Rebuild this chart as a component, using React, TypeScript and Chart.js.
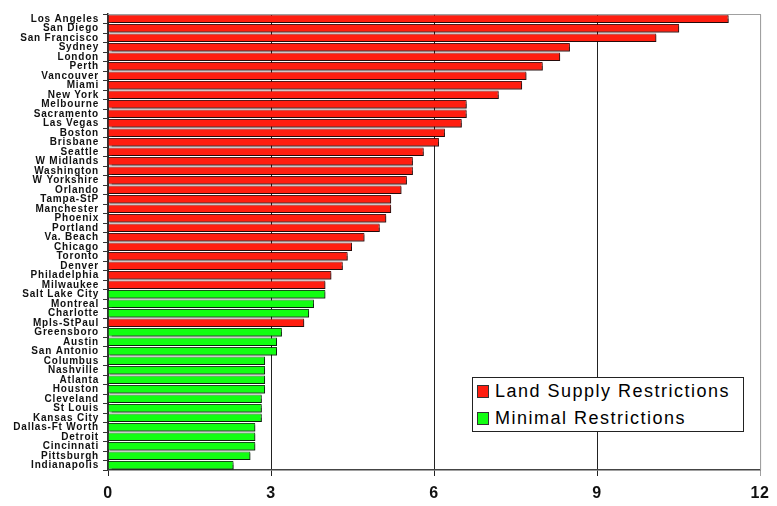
import React, { useEffect, useRef } from "react";
import { Chart, registerables } from "chart.js";

Chart.register(...registerables);

const cities = [
  "Los Angeles", "San Diego", "San Francisco", "Sydney", "London", "Perth",
  "Vancouver", "Miami", "New York", "Melbourne", "Sacramento", "Las Vegas",
  "Boston", "Brisbane", "Seattle", "W Midlands", "Washington", "W Yorkshire",
  "Orlando", "Tampa-StP", "Manchester", "Phoenix", "Portland", "Va. Beach",
  "Chicago", "Toronto", "Denver", "Philadelphia", "Milwaukee", "Salt Lake City",
  "Montreal", "Charlotte", "Mpls-StPaul", "Greensboro", "Austin", "San Antonio",
  "Columbus", "Nashville", "Atlanta", "Houston", "Cleveland", "St Louis",
  "Kansas City", "Dallas-Ft Worth", "Detroit", "Cincinnati", "Pittsburgh", "Indianapolis",
];

const values = [
  11.42, 10.51, 10.09, 8.5, 8.32, 8.0,
  7.7, 7.62, 7.19, 6.6, 6.6, 6.51,
  6.2, 6.09, 5.81, 5.61, 5.61, 5.5,
  5.4, 5.21, 5.21, 5.12, 5.0, 4.72,
  4.49, 4.41, 4.32, 4.11, 4.0, 4.0,
  3.79, 3.7, 3.61, 3.2, 3.11, 3.11,
  2.89, 2.89, 2.89, 2.89, 2.83, 2.83,
  2.83, 2.71, 2.71, 2.71, 2.62, 2.31,
];

// 1 = land supply restrictions, 0 = minimal restrictions
const restricted = [
  1, 1, 1, 1, 1, 1,
  1, 1, 1, 1, 1, 1,
  1, 1, 1, 1, 1, 1,
  1, 1, 1, 1, 1, 1,
  1, 1, 1, 1, 1, 0,
  0, 0, 1, 0, 0, 0,
  0, 0, 0, 0, 0, 0,
  0, 0, 0, 0, 0, 0,
];

const seriesLabels = ["Land Supply Restrictions", "Minimal Restrictions"];
const xTicks = [0, 3, 6, 9, 12];

const RED = "#ff1e10";
const GREEN = "#12ff12";

const spacingPlugin = {
  id: "labelSpacing",
  beforeDraw(chart: any) {
    chart.ctx.letterSpacing = "0.8px";
  },
  beforeDatasetsDraw(chart: any) {
    chart.ctx.letterSpacing = "0px";
  },
};

const shadowPlugin = {
  id: "barShadow",
  beforeDatasetsDraw(chart: any) {
    const ctx = chart.ctx;
    ctx.save();
    ctx.shadowColor = "rgba(0,0,0,0.6)";
    ctx.shadowOffsetX = 1;
    ctx.shadowOffsetY = 1.5;
    ctx.shadowBlur = 1;
  },
  afterDatasetsDraw(chart: any) {
    chart.ctx.restore();
  },
};

const framePlugin = {
  id: "frame",
  afterDraw(chart: any) {
    const { ctx, chartArea } = chart;
    ctx.save();
    ctx.strokeStyle = "#a0a0a0";
    ctx.lineWidth = 1;
    ctx.beginPath();
    ctx.moveTo(chartArea.left, chartArea.top + 0.5);
    ctx.lineTo(chartArea.right + 0.5, chartArea.top + 0.5);
    ctx.lineTo(chartArea.right + 0.5, chartArea.bottom);
    ctx.stroke();
    ctx.restore();
  },
};

export default function App() {
  const canvasRef = useRef<HTMLCanvasElement | null>(null);

  useEffect(() => {
    if (!canvasRef.current) return;
    const redData = values.map((v, i) => (restricted[i] ? v : null));
    const greenData = values.map((v, i) => (restricted[i] ? null : v));
    const chart = new Chart(canvasRef.current, {
      type: "bar",
      data: {
        labels: cities,
        datasets: [
          {
            label: seriesLabels[0],
            data: redData,
            backgroundColor: RED,
            borderColor: "rgba(70,0,0,0.9)",
            borderWidth: 1,
            grouped: false,
            barPercentage: 0.92,
            categoryPercentage: 1,
          },
          {
            label: seriesLabels[1],
            data: greenData,
            backgroundColor: GREEN,
            borderColor: "rgba(0,60,0,0.9)",
            borderWidth: 1,
            grouped: false,
            barPercentage: 0.92,
            categoryPercentage: 1,
          },
        ],
      },
      options: {
        indexAxis: "y",
        animation: false,
        responsive: false,
        maintainAspectRatio: false,
        layout: { padding: { top: 14, right: 13, left: 0, bottom: 0 } },
        plugins: {
          legend: { display: false },
          tooltip: { enabled: false },
        },
        scales: {
          x: {
            type: "linear",
            min: 0,
            max: 12,
            afterBuildTicks(scale: any) {
              scale.ticks = xTicks.map((v) => ({ value: v }));
            },
            afterFit(scale: any) {
              scale.height = 36;
            },
            border: { display: true, color: "#444", width: 1.5 },
            grid: {
              drawOnChartArea: true,
              drawTicks: true,
              tickLength: 6,
              color: (c: any) => (c.tick && c.tick.value === 12 ? "#a0a0a0" : "#222"),
              lineWidth: 1,
            },
            ticks: {
              color: "#111",
              padding: 8,
              font: { family: "Liberation Sans, Arial, sans-serif", size: 16, weight: "bold" },
            },
          },
          y: {
            type: "category",
            afterFit(scale: any) {
              scale.width = 108;
            },
            border: { display: true, color: "#333", width: 1.5 },
            grid: {
              drawOnChartArea: false,
              drawTicks: true,
              tickLength: 5,
              color: "#333",
              offset: true,
            },
            ticks: {
              autoSkip: false,
              color: "#111",
              padding: 4,
              font: { family: "Liberation Sans, Arial, sans-serif", size: 10, weight: "bold" },
            },
          },
        },
      },
      plugins: [spacingPlugin, shadowPlugin, framePlugin],
    });
    return () => chart.destroy();
  }, []);

  const legendRow = (label: string, color: string) => (
    <div style={{ display: "flex", alignItems: "center", height: 27 }}>
      <span
        style={{
          display: "inline-block",
          width: 10,
          height: 11,
          background: color,
          border: "1px solid #333",
          marginRight: 6,
          flex: "none",
        }}
      />
      <span
        style={{
          fontFamily: "Liberation Sans, Arial, sans-serif",
          fontSize: 18,
          color: "#000",
          letterSpacing: 1.5,
          whiteSpace: "nowrap",
        }}
      >
        {label}
      </span>
    </div>
  );

  return (
    <div style={{ position: "fixed", left: 0, top: 0, width: 777, height: 506, background: "#fff" }}>
      <canvas ref={canvasRef} width={777} height={506} style={{ width: 777, height: 506, display: "block" }} />
      <div
        style={{
          position: "absolute",
          left: 472,
          top: 377,
          width: 272,
          height: 55,
          border: "1.5px solid #222",
          background: "#fff",
          boxSizing: "border-box",
          padding: "0 0 0 4px",
        }}
      >
        {legendRow(seriesLabels[0], RED)}
        {legendRow(seriesLabels[1], GREEN)}
      </div>
    </div>
  );
}
